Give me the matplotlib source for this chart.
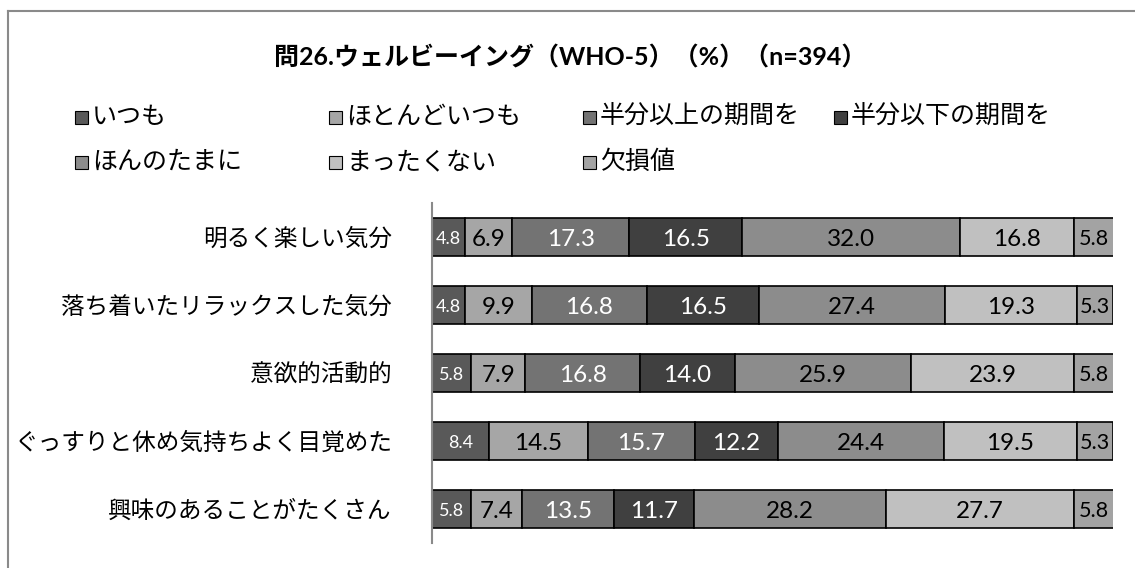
import matplotlib
matplotlib.use("Agg")
import matplotlib.pyplot as plt
from matplotlib.patches import Rectangle
from matplotlib.lines import Line2D

plt.rcParams['font.family'] = ['Noto Sans CJK JP', 'DejaVu Sans']
NUM_FONT = ['Lato', 'Noto Sans CJK JP']

title = "問26.ウェルビーイング（WHO-5）（%）（n=394）"
categories = ["明るく楽しい気分", "落ち着いたリラックスした気分", "意欲的活動的",
              "ぐっすりと休め気持ちよく目覚めた", "興味のあることがたくさん"]
series_names = ["いつも", "ほとんどいつも", "半分以上の期間を", "半分以下の期間を",
                "ほんのたまに", "まったくない", "欠損値"]
values = [
    [4.8, 4.8, 5.8, 8.4, 5.8],        # いつも
    [6.9, 9.9, 7.9, 14.5, 7.4],       # ほとんどいつも
    [17.3, 16.8, 16.8, 15.7, 13.5],   # 半分以上の期間を
    [16.5, 16.5, 14.0, 12.2, 11.7],   # 半分以下の期間を
    [32.0, 27.4, 25.9, 24.4, 28.2],   # ほんのたまに
    [16.8, 19.3, 23.9, 19.5, 27.7],   # まったくない
    [5.8, 5.3, 5.8, 5.3, 5.8],        # 欠損値
]

colors = ["#595959", "#a6a6a6", "#737373", "#404040", "#8c8c8c", "#c0c0c0", "#a3a3a3"]
text_colors = ["white", "black", "white", "white", "black", "black", "black"]
label_sizes = [13, 17.5, 17.5, 17.5, 17.5, 17.5, 15.5]

W, H = 1135, 568
fig = plt.figure(figsize=(W / 100, H / 100), dpi=100)

# outer frame
fig.add_artist(Line2D([8 / W, 8 / W], [0, 1 - 11 / H], color="#8a8a8a", lw=1.5))
fig.add_artist(Line2D([8 / W, 1], [1 - 11 / H, 1 - 11 / H], color="#8a8a8a", lw=1.5))

ax = fig.add_axes([432 / W, (H - 543) / H, 681 / W, 340 / H])
ypos = list(range(len(categories)))
left = [0.0] * len(categories)
for i, name in enumerate(series_names):
    bars = ax.barh(ypos, values[i], left=left, height=0.55, color=colors[i],
                   edgecolor="black", linewidth=1.2, label=name)
    for j, b in enumerate(bars):
        ax.text(b.get_x() + b.get_width() / 2, b.get_y() + b.get_height() / 2,
                f"{values[i][j]:.1f}", ha="center", va="center_baseline",
                color=text_colors[i], fontsize=label_sizes[i], family=NUM_FONT)
    left = [l + v for l, v in zip(left, values[i])]

ax.set_xlim(0, 100)
ax.set_ylim(len(categories) - 0.5, -0.5)
ax.set_yticks(ypos)
ax.set_yticklabels(categories, fontsize=17)
ax.tick_params(axis="y", length=0, pad=29)
ax.set_xticks([])
for s in ["top", "right", "bottom"]:
    ax.spines[s].set_visible(False)
ax.spines["left"].set_color("#8a8a8a")
ax.spines["left"].set_linewidth(1.5)

# title
fig.text(570 / W, 1 - 57 / H, title, ha="center", va="center",
         fontsize=18, fontweight="bold", family=NUM_FONT)

# legend
leg_pos = [(75, 117), (329, 117), (583, 117), (834, 117),
           (75, 162), (329, 162), (583, 162)]
for (x, y), name, c in zip(leg_pos, series_names, colors):
    fig.add_artist(Rectangle((x / W, 1 - (y + 7) / H), 13 / W, 13 / H,
                             facecolor=c, edgecolor="black", linewidth=0.8))
    fig.text((x + 17) / W, 1 - y / H, name, ha="left", va="center", fontsize=18)

fig.savefig("out.png", dpi=100)
